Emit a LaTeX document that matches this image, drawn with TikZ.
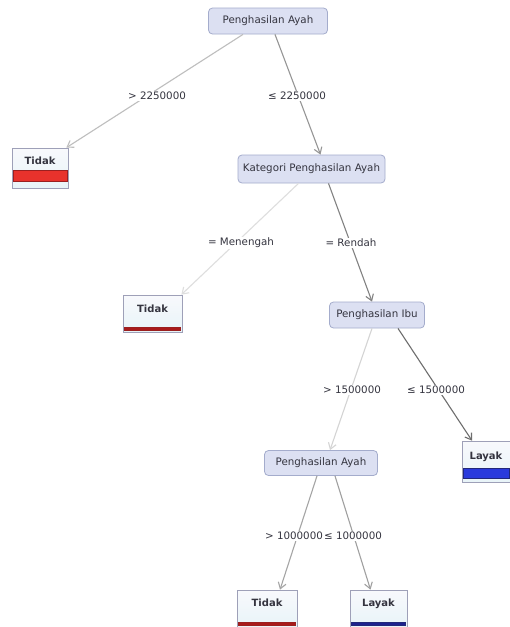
\documentclass[tikz,border=0pt]{standalone}
\usepackage{fontspec}
\setmainfont{DejaVu Sans}
\usetikzlibrary{arrows.meta,calc}
\definecolor{inbg}{HTML}{DCE0F2}
\definecolor{inbd}{HTML}{A4ACCC}
\definecolor{lfbd}{HTML}{9EA0B8}
\definecolor{txt}{HTML}{34343F}
\definecolor{redbar}{HTML}{E8322C}
\definecolor{redbd}{HTML}{9A2020}
\definecolor{bluebar}{HTML}{2A3ADC}
\definecolor{bluebd}{HTML}{22287A}
\begin{document}
\begin{tikzpicture}[x=1pt,y=-1pt,
  inner/.style={draw=inbd,fill=inbg,rounded corners=4pt,line width=0.8pt,
    font=\fontsize{10.3}{12}\selectfont,text=txt,minimum height=26pt,inner xsep=4pt},
  leaf/.style={draw=lfbd,top color=white!80!inbg,bottom color={rgb,255:red,232;green,244;blue,248},
    line width=0.7pt,font=\bfseries\fontsize{10}{11}\selectfont,text=txt,inner sep=0pt,anchor=base},
  elabel/.style={fill=white,inner sep=1pt,font=\fontsize{10.3}{11}\selectfont,text=txt},
  edge/.style={line width=1.1pt,-{Straight Barb[length=6pt,width=8pt]}}
]
\useasboundingbox (0,0) rectangle (510,627);
\fill[white] (0,0) rectangle (510,627);

% internal nodes
\node[inner,minimum width=119pt] (root) at (268,21) {Penghasilan Ayah};
\node[inner,minimum width=147pt,minimum height=28pt] (kat) at (311.5,169) {Kategori Penghasilan Ayah};
\node[inner,minimum width=95pt] (ibu) at (377,315) {Penghasilan Ibu};
\node[inner,minimum width=113pt,minimum height=25pt] (pa2) at (321,463) {Penghasilan Ayah};

% leaves
\node[leaf,minimum width=56pt,text height=16pt,text depth=24pt] (t1) at (40,164) {Tidak};
\node[leaf,minimum width=59pt,text height=17pt,text depth=20pt] (t2) at (152.5,312) {Tidak};
\node[leaf,minimum width=48pt,text height=18pt,text depth=23pt] (l1) at (486,459) {Layak};
\node[leaf,minimum width=60pt,text height=16pt,text depth=22pt] (t3) at (267,606) {Tidak};
\node[leaf,minimum width=57pt,text height=16pt,text depth=22pt] (l2) at (378.5,606) {Layak};

% bars
\filldraw[fill=redbar,draw=redbd,line width=0.6pt] ([xshift=1.5pt,yshift=7pt]t1.south west) rectangle ([xshift=-1.5pt,yshift=18pt]t1.south east);
\filldraw[fill=redbd!85!red,draw=redbd,line width=0.4pt] ([xshift=2pt,yshift=2pt]t2.south west) rectangle ([xshift=-2pt,yshift=5pt]t2.south east);
\filldraw[fill=bluebar,draw=bluebd,line width=0.6pt] ([xshift=1.5pt,yshift=4pt]l1.south west) rectangle ([xshift=-1.5pt,yshift=14pt]l1.south east);
\filldraw[fill=redbd!85!red,draw=redbd,line width=0.4pt] ([xshift=2pt,yshift=3pt]t3.south west) rectangle ([xshift=-2pt,yshift=6pt]t3.south east);
\filldraw[fill=bluebd!85!blue,draw=bluebd,line width=0.4pt] ([xshift=2pt,yshift=3pt]l2.south west) rectangle ([xshift=-2pt,yshift=6pt]l2.south east);

% edges
\draw[edge,draw={rgb,255:red,190;green,190;blue,190}] ([xshift=-25pt]root.south) -- ([xshift=-2pt]t1.north east);
\draw[edge,draw={rgb,255:red,150;green,150;blue,150}] ([xshift=7pt]root.south) -- ([xshift=9pt]kat.north);
\draw[edge,draw={rgb,255:red,222;green,222;blue,222}] ([xshift=-13pt]kat.south) -- ([xshift=-1pt]t2.north east);
\draw[edge,draw={rgb,255:red,130;green,130;blue,130}] ([xshift=17pt]kat.south) -- ([xshift=-5pt]ibu.north);
\draw[edge,draw={rgb,255:red,212;green,212;blue,212}] ([xshift=-5pt]ibu.south) -- ([xshift=9pt]pa2.north);
\draw[edge,draw={rgb,255:red,110;green,110;blue,110}] ([xshift=21pt]ibu.south) -- ([xshift=-14pt]l1.north);
\draw[edge,draw={rgb,255:red,165;green,165;blue,165}] ([xshift=-4pt]pa2.south) -- ([xshift=13pt]t3.north);
\draw[edge,draw={rgb,255:red,160;green,160;blue,160}] ([xshift=14pt]pa2.south) -- ([xshift=-8pt]l2.north);

% edge labels
\node[elabel] (e1) at (157,96) {> 2250000};
\node[elabel] (e2) at (297,96) {≤ 2250000};
\node[elabel] (e3) at (241,243) {= Menengah};
\node[elabel] (e4) at (351,243) {= Rendah};
\node[elabel] (e5) at (352,390) {> 1500000};
\node[elabel] (e6) at (436,390) {≤ 1500000};
\node[elabel] (e7) at (294,536) {> 1000000};
\node[elabel] (e8) at (353,536) {≤ 1000000};
\end{tikzpicture}
\end{document}
